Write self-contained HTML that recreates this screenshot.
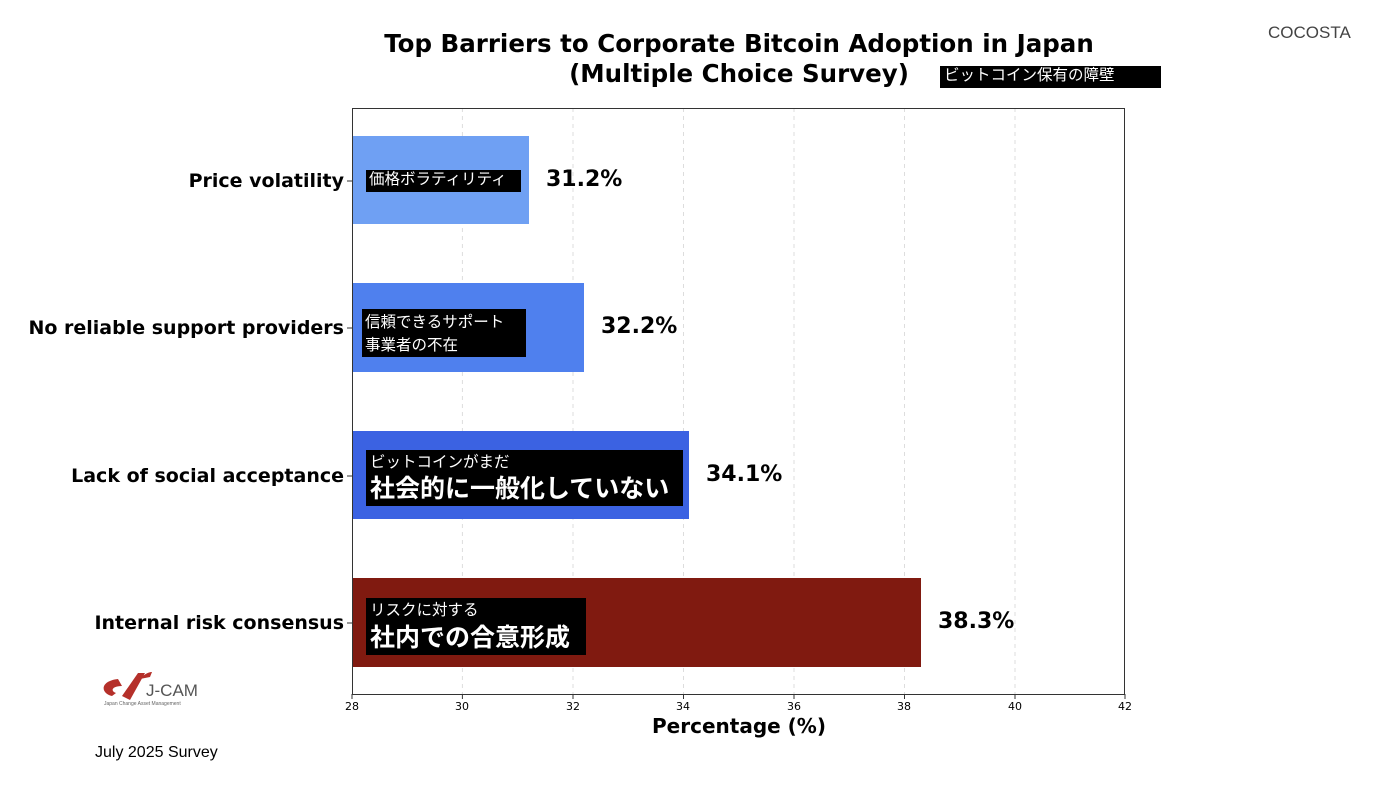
<!DOCTYPE html>
<html><head><meta charset="utf-8"><style>
body{margin:0;width:1400px;height:788px;background:#fff;position:relative;overflow:hidden;font-family:"Liberation Sans","Noto Sans CJK JP",sans-serif}
.a{position:absolute}
.lbl{position:absolute;right:1056px;font-weight:bold;font-size:19px;color:#000;white-space:nowrap;font-family:'DejaVu Sans',sans-serif}
.bk{position:absolute;background:#000;color:#fff;font-family:"Noto Sans CJK JP",sans-serif;line-height:1.15}
.val{position:absolute;font-weight:bold;font-size:22px;font-family:'DejaVu Sans',sans-serif}
.t{position:absolute;font-size:11px;top:700px;width:30px;text-align:center;font-family:"DejaVu Sans",sans-serif}
</style></head><body>
<div class="a" style="left:0;width:1478px;top:29px;text-align:center;font-family:'DejaVu Sans',sans-serif;font-weight:bold;font-size:24.5px;line-height:30px">Top Barriers to Corporate Bitcoin Adoption in Japan<br>(Multiple Choice Survey)</div>
<div class="bk" style="left:940px;top:66px;width:221px;height:22px;font-size:15.5px;padding-left:4px;box-sizing:border-box">ビットコイン保有の障壁</div>
<div class="a" style="left:1268px;top:23px;font-size:17px;color:#444">COCOSTA</div>
<svg class="a" style="left:0;top:0" width="1400" height="788">
<g stroke="#ddd" stroke-dasharray="4,4" stroke-width="1">
<line x1="462.4" y1="108" x2="462.4" y2="694"/><line x1="573" y1="108" x2="573" y2="694"/><line x1="683.5" y1="108" x2="683.5" y2="694"/><line x1="794" y1="108" x2="794" y2="694"/><line x1="904.5" y1="108" x2="904.5" y2="694"/><line x1="1015" y1="108" x2="1015" y2="694"/></g>
<rect x="352" y="136" width="177" height="88" fill="#6fa0f3"/>
<rect x="352" y="283" width="232" height="89" fill="#4f80ee"/>
<rect x="352" y="431" width="337" height="88" fill="#3b62e2"/>
<rect x="352" y="578" width="569" height="89" fill="#801a10"/>
<rect x="352.5" y="108.5" width="772" height="586" fill="none" stroke="#333"/>
<g stroke="#333"><line x1="352" y1="694" x2="352" y2="699"/><line x1="462.4" y1="694" x2="462.4" y2="699"/><line x1="573" y1="694" x2="573" y2="699"/><line x1="683.5" y1="694" x2="683.5" y2="699"/><line x1="794" y1="694" x2="794" y2="699"/><line x1="904.5" y1="694" x2="904.5" y2="699"/><line x1="1015" y1="694" x2="1015" y2="699"/><line x1="1125" y1="694" x2="1125" y2="699"/>
<line x1="347" y1="181" x2="352" y2="181"/><line x1="347" y1="328" x2="352" y2="328"/><line x1="347" y1="476" x2="352" y2="476"/><line x1="347" y1="623" x2="352" y2="623"/></g>
<path d="M112 696 C100 693 100 681 118 679 L122 686 C112 686 110 691 116 693 Z M122 696 L138 673 L145 673 L130 700 Z M140 679 C145 673 150 672 152 672 L150 677 Z" fill="#b5302a"/>
</svg>
<div class="a" style="left:146px;top:681px;font-size:17px;color:#555">J-CAM</div>
<div class="a" style="left:104px;top:701px;font-size:5px;color:#666">Japan Change Asset Management</div>
<div class="t" style="left:337px">28</div><div class="t" style="left:447px">30</div><div class="t" style="left:558px">32</div><div class="t" style="left:668px">34</div><div class="t" style="left:779px">36</div><div class="t" style="left:889px">38</div><div class="t" style="left:1000px">40</div><div class="t" style="left:1110px">42</div>
<div class="a" style="left:0;width:1478px;top:714px;text-align:center;font-family:'DejaVu Sans',sans-serif;font-weight:bold;font-size:20px">Percentage (%)</div>
<div class="a" style="left:95px;top:744px;font-size:16px">July 2025 Survey</div>
<div class="lbl" style="top:170px">Price volatility</div>
<div class="lbl" style="top:317px">No reliable support providers</div>
<div class="lbl" style="top:465px">Lack of social acceptance</div>
<div class="lbl" style="top:612px">Internal risk consensus</div>
<div class="bk" style="left:366px;top:170px;width:155px;height:22px;font-size:15.5px;padding-left:3px;box-sizing:border-box">価格ボラティリティ</div>
<div class="bk" style="left:362px;top:309px;width:164px;height:48px;font-size:15.5px;padding:1px 0 0 3px;box-sizing:border-box;line-height:23px">信頼できるサポート<br>事業者の不在</div>
<div class="bk" style="left:366px;top:450px;width:317px;height:56px;padding-left:4px;box-sizing:border-box"><div style="font-size:15.5px;line-height:22px">ビットコインがまだ</div><div style="font-size:25px;font-weight:bold;line-height:30px">社会的に一般化していない</div></div>
<div class="bk" style="left:366px;top:598px;width:220px;height:57px;padding-left:4px;box-sizing:border-box"><div style="font-size:15.5px;line-height:23px">リスクに対する</div><div style="font-size:25px;font-weight:bold;line-height:30px">社内での合意形成</div></div>
<div class="val" style="left:546px;top:167px">31.2%</div>
<div class="val" style="left:601px;top:314px">32.2%</div>
<div class="val" style="left:706px;top:462px">34.1%</div>
<div class="val" style="left:938px;top:609px">38.3%</div>
</body></html>
